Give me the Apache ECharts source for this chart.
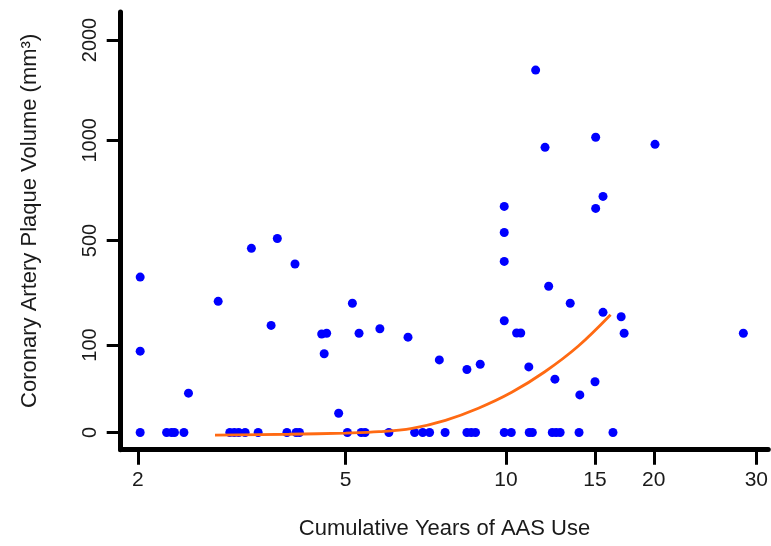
<!DOCTYPE html>
<html>
<head>
<meta charset="utf-8">
<script src="https://cdn.jsdelivr.net/npm/echarts@6/dist/echarts.min.js"></script>
<style>
  html, body { margin: 0; padding: 0; background: #fff; }
  #main { width: 771px; height: 546px; }
</style>
</head>
<body>
<div id="main"></div>
<script>
// axis tick labels
var xTicks = [2, 5, 10, 15, 20, 30];
var yTicks = [0, 100, 500, 1000, 2000];

// subjects with no measurable plaque (cumulative years of use)
var zeroYears = [2.02, 2.27, 2.32, 2.35, 2.45, 3.00, 3.06, 3.12, 3.21, 3.40, 3.86, 4.02, 4.08,
  5.04, 5.35, 5.44, 6.03, 6.74, 6.98, 7.19, 7.69, 8.45, 8.61, 8.77, 9.93, 10.25,
  11.12, 11.28, 12.35, 12.57, 12.80, 13.95, 16.38];

// subjects with plaque: years of use and plaque volume (mm3)
var plaqueYears = [2.02, 2.02, 2.5, 2.85, 3.3, 3.6, 3.7, 4.0, 4.5, 4.55, 4.6, 4.85, 5.15, 5.3,
  5.8, 6.55, 7.5, 8.45, 8.95, 9.93, 9.93, 9.93, 9.93, 10.5, 10.7, 11.1, 11.45, 11.95,
  12.15, 12.5, 13.4, 14.0, 15.0, 15.05, 15.05, 15.6, 15.6, 17.05, 17.3, 20.1, 28.5];
var plaqueVolume = [360, 93, 45, 267, 470, 175, 510, 410, 142, 90, 145, 22, 260, 145,
  162, 130, 83, 72, 78, 420, 540, 670, 193, 146, 146, 75, 1700, 965,
  325, 61, 260, 43, 58, 1030, 660, 720, 225, 208, 145, 980, 145];

// fitted curve
var fitYears = [2.81, 3.9, 5.0, 5.78, 6.67, 7.7, 8.88, 10.27, 11.94, 13.89, 16.19];
var fitVolume = [-3, -2, -0.6, 0.9, 4.8, 13.9, 27.7, 45.9, 69.4, 98.5, 215.6];

// the original axes are irregular: where each tick sits (px from the first tick)
var xTickPos = [0, 208.5, 369.5, 459, 518, 621];
var yTickPos = [0, 87.5, 192, 292.2, 392.5];

function piece(v, vals, pos, f) {
  var i = 0;
  while (i < vals.length - 2 && v > vals[i + 1]) i++;
  var a = f(vals[i]), b = f(vals[i + 1]);
  return pos[i] + (f(v) - a) / (b - a) * (pos[i + 1] - pos[i]);
}
function toX(v) { return piece(v, xTicks, xTickPos, Math.log); }
function toY(v) { return piece(v, yTicks, yTickPos, function (d) { return d; }); }

function tickFormatter(ticks, pos) {
  return function (val) {
    for (var i = 0; i < pos.length; i++) {
      if (Math.abs(pos[i] - val) < 0.01) return String(ticks[i]);
    }
    return '';
  };
}

var points = [];
zeroYears.forEach(function (x) { points.push([toX(x), toY(0)]); });
plaqueYears.forEach(function (x, i) { points.push([toX(x), toY(plaqueVolume[i])]); });
var fitLine = fitYears.map(function (x, i) { return [toX(x), toY(fitVolume[i])]; });

var font = '"Liberation Sans", Arial, sans-serif';
var axisBlack = { color: '#000', width: 5, cap: 'round' };

var myChart = echarts.init(document.getElementById('main'));
var option = {
  animation: false,
  grid: { left: 120.7, right: 0, top: 12, bottom: 96.3 },
  xAxis: {
    type: 'value',
    min: -17.3,
    max: 633,
    axisLine: { onZero: false, lineStyle: axisBlack },
    axisTick: { customValues: xTickPos, length: 15, lineStyle: { color: '#000', width: 3 } },
    axisLabel: {
      customValues: xTickPos,
      formatter: tickFormatter(xTicks, xTickPos),
      margin: 20, fontSize: 21, color: '#1a1a1a', fontFamily: font
    },
    splitLine: { show: false },
    name: 'Cumulative Years of AAS Use',
    nameLocation: 'middle',
    nameGap: 68,
    nameTextStyle: { fontSize: 22, color: '#1a1a1a', fontFamily: font }
  },
  yAxis: {
    type: 'value',
    min: -17.2,
    max: 420.5,
    axisLine: { onZero: false, lineStyle: axisBlack },
    axisTick: { customValues: yTickPos, length: 14, lineStyle: { color: '#000', width: 3 } },
    axisLabel: {
      customValues: yTickPos,
      formatter: tickFormatter(yTicks, yTickPos),
      rotate: 90,
      margin: 20, fontSize: 20, color: '#1a1a1a', fontFamily: font
    },
    splitLine: { show: false },
    name: 'Coronary Artery Plaque Volume (mm³)',
    nameLocation: 'middle',
    nameGap: 80,
    nameTextStyle: { fontSize: 22, color: '#1a1a1a', fontFamily: font, padding: [0, 0, 0, 20] }
  },
  series: [
    {
      type: 'scatter',
      data: points,
      symbolSize: 9,
      itemStyle: { color: '#0000ff', opacity: 1 },
      z: 2
    },
    {
      type: 'line',
      data: fitLine,
      smooth: 0.35,
      showSymbol: false,
      lineStyle: { color: '#ff6a13', width: 2.8 },
      z: 3
    }
  ]
};
myChart.setOption(option);
window.onresize = function () {
  myChart.resize();
};
</script>
</body>
</html>
